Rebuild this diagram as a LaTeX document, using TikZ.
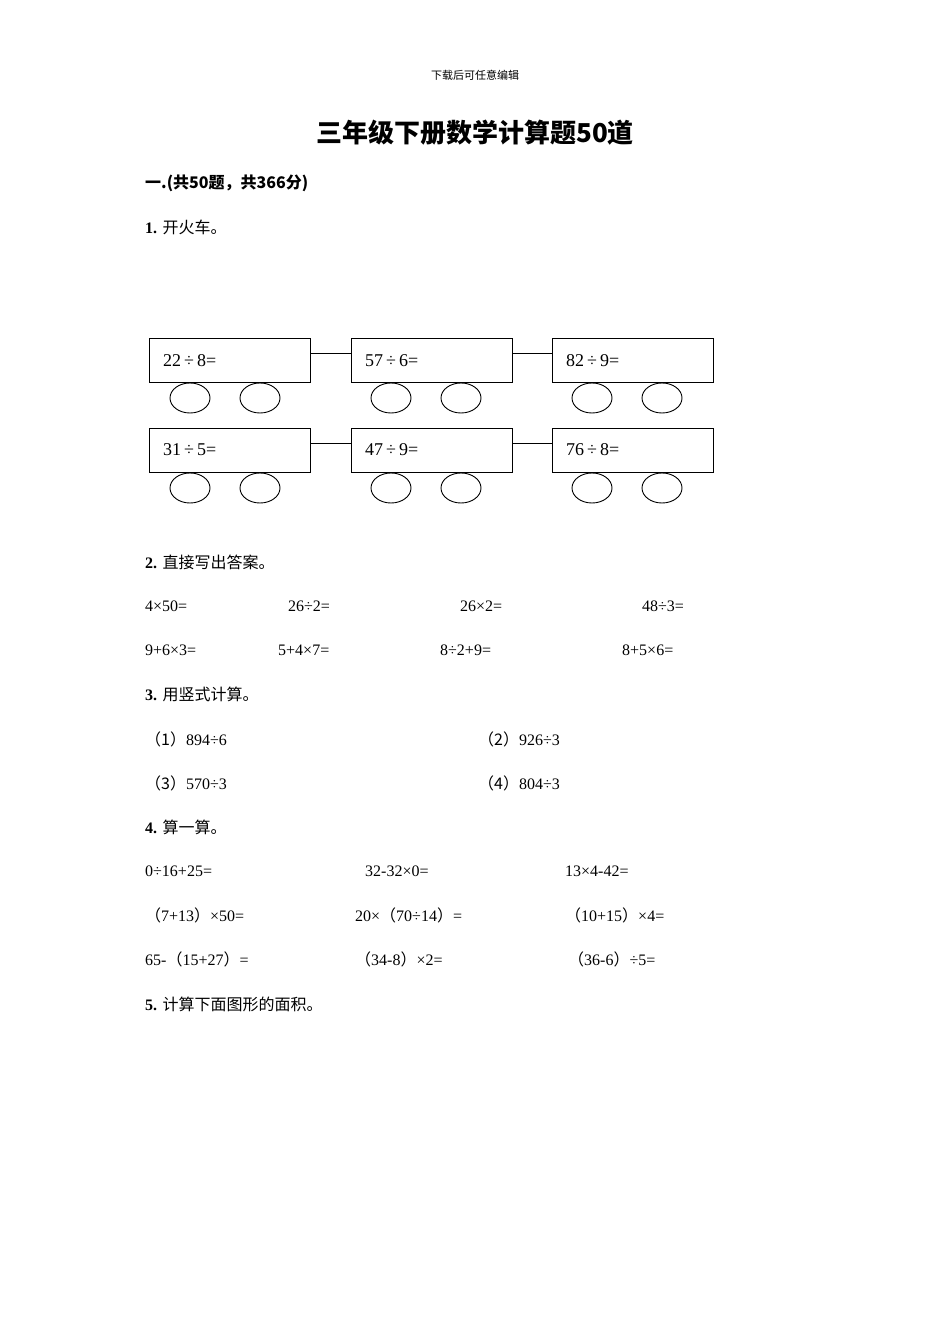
\documentclass[tikz,border=0pt]{standalone}
\usepackage{fontspec}
\usetikzlibrary{shapes.geometric}
\setmainfont{Liberation Serif}
\newfontfamily\cjk{Noto Sans CJK SC}
\newcommand{\C}[1]{{\cjk #1}}
\begin{document}
\begin{tikzpicture}[x=1pt,y=-1pt,
  t/.style={anchor=west,inner sep=0pt,font=\fontsize{16}{18}\selectfont},
  car/.style={draw,line width=0.9pt,minimum width=161pt,minimum height=44pt,anchor=north west,inner sep=0pt},
  wheel/.style={draw,line width=0.9pt,ellipse,minimum width=40pt,minimum height=30pt,inner sep=0pt},
  lab/.style={anchor=west,inner sep=0pt,font=\fontsize{18}{20}\selectfont}]
\useasboundingbox[fill=white] (0,0) rectangle (950,1344);
\node[inner sep=0pt,font=\fontsize{11}{12}\selectfont\cjk] (hd) at (475,75) {下载后可任意编辑};
\node[inner sep=0pt,font=\fontsize{26}{28}\selectfont\cjk\bfseries] (ti) at (475,133) {三年级下册数学计算题50道};
\node[t,font=\fontsize{16}{18}\selectfont\cjk\bfseries] (s0) at (145,183) {一.(共50题，共366分)};
\node[t] (q1) at (145,227) {\textbf{1.} \C{开火车。}};
\foreach \r/\y in {1/338, 2/428}{
  \node[car] (b\r1) at (149,\y) {};
  \node[car] (b\r2) at (351,\y) {};
  \node[car] (b\r3) at (552,\y) {};
}
\node[lab] at (163,361) {22\,÷\,8=};
\node[lab] at (365,361) {57\,÷\,6=};
\node[lab] at (566,361) {82\,÷\,9=};
\node[lab] at (163,450) {31\,÷\,5=};
\node[lab] at (365,450) {47\,÷\,9=};
\node[lab] at (566,450) {76\,÷\,8=};
\foreach \r/\y in {1/353,2/443}{
  \draw[line width=0.9pt] (b\r1.east |- 0,\y) -- (b\r2.west |- 0,\y);
  \draw[line width=0.9pt] (b\r2.east |- 0,\y) -- (b\r3.west |- 0,\y);
}
\foreach \y in {398,488}{
  \foreach \x in {190,260,391,461,592,662}{
    \node[wheel] at (\x,\y) {};
  }
}
\node[t] (q2) at (145,562) {\textbf{2.} \C{直接写出答案。}};
\node[t] at (145,606) {4×50=};
\node[t] at (288,606) {26÷2=};
\node[t] at (460,606) {26×2=};
\node[t] at (642,606) {48÷3=};
\node[t] at (145,650) {9+6×3=};
\node[t] at (278,650) {5+4×7=};
\node[t] at (440,650) {8÷2+9=};
\node[t] at (622,650) {8+5×6=};
\node[t] (q3) at (145,694) {\textbf{3.} \C{用竖式计算。}};
\node[t] at (145,739) {\C{（1）}894÷6};
\node[t] at (478,739) {\C{（2）}926÷3};
\node[t] at (145,783) {\C{（3）}570÷3};
\node[t] at (478,783) {\C{（4）}804÷3};
\node[t] (q4) at (145,827) {\textbf{4.} \C{算一算。}};
\node[t] at (145,871) {0÷16+25=};
\node[t] at (365,871) {32-32×0=};
\node[t] at (565,871) {13×4-42=};
\node[t] at (145,915) {\C{（}7+13\C{）}×50=};
\node[t] at (355,915) {20×\C{（}70÷14\C{）}=};
\node[t] at (565,915) {\C{（}10+15\C{）}×4=};
\node[t] at (145,959) {65-\C{（}15+27\C{）}=};
\node[t] at (355,959) {\C{（}34-8\C{）}×2=};
\node[t] at (568,959) {\C{（}36-6\C{）}÷5=};
\node[t] (q5) at (145,1004) {\textbf{5.} \C{计算下面图形的面积。}};
\end{tikzpicture}
\end{document}
